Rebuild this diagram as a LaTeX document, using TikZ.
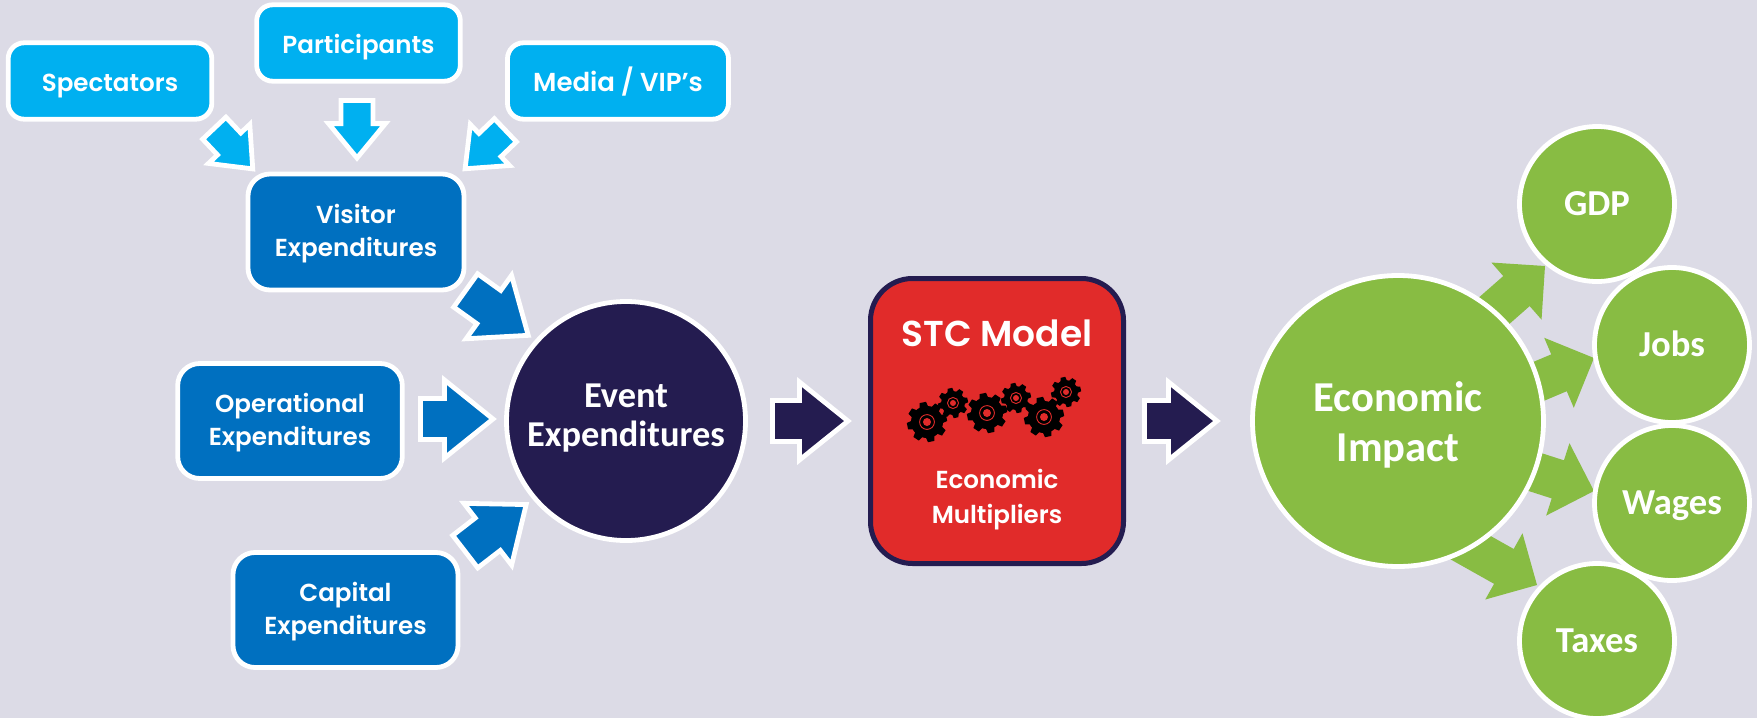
\documentclass[tikz,border=0pt]{standalone}
\usepackage{fontspec}
\setmainfont{Poppins}[BoldFont={Poppins SemiBold}]
\newfontfamily\carl{Carlito}
\usetikzlibrary{calc}
\definecolor{bgc}{HTML}{DCDBE6}
\definecolor{lblue}{HTML}{00B0F0}
\definecolor{mblue}{HTML}{0070C0}
\definecolor{navy}{HTML}{241C50}
\definecolor{redc}{HTML}{E12B2A}
\definecolor{greenc}{HTML}{88BC43}
\pgfdeclarelayer{back}
\pgfdeclarelayer{arrows}
\pgfsetlayers{back,arrows,main}
\newcommand\tl[1]{\rule{0pt}{#1}}
\tikzset{
  box/.style={draw=white,line width=2.4pt,rounded corners=8pt,inner sep=0pt,align=center,text=white,
    font=\fontsize{12.3pt}{16.3pt}\selectfont\bfseries},
  srcbox/.style={box,fill=lblue,minimum width=101.8pt,minimum height=38.2pt,text height=12pt,text depth=2pt},
  expbox/.style={box,fill=mblue,rounded corners=11pt,minimum width=112.3pt,minimum height=57.5pt},
  hubcircle/.style={circle,draw=white,line width=2.4pt,inner sep=0pt,align=center,text=white},
  smallcircle/.style={hubcircle,fill=greenc,minimum size=77.5pt,text height=14pt,text depth=3pt,
    font=\carl\fontsize{18.3pt}{20pt}\selectfont\bfseries},
  label/.style={inner sep=0pt,align=center,text=white},
  arrowlight/.style={fill=lblue,draw=white,line width=2.4pt,miter limit=10},
  arrowblue/.style={fill=mblue,draw=white,line width=2.4pt,miter limit=10},
  arrownavy/.style={fill=navy,draw=white,line width=2.4pt,miter limit=10},
  arrowgreen/.style={fill=greenc,draw=none},
}
% style, tail, tip, head length, shaft half width, head half width, tail extension, tip extension
\newcommand\blockarrow[8]{%
  \path let \p1=#2, \p2=#3 in coordinate (ta0) at (\p1) coordinate (ti0) at (\p2);
  \coordinate (ta) at ($(ta0)!-#7!(ti0)$);
  \coordinate (ti) at ($(ti0)!-#8!(ta0)$);
  \coordinate (ba) at ($(ti)!#4!(ta)$);
  \draw[#1] ($(ta)!#5!90:(ti)$) -- ($(ba)!#5!-90:(ta)$) -- ($(ba)!#6!-90:(ta)$) -- (ti)
    -- ($(ba)!#6!90:(ta)$) -- ($(ba)!#5!90:(ta)$) -- ($(ta)!#5!-90:(ti)$) -- cycle;
}
\newcommand\smallarrow[2]{\blockarrow{arrowlight}{#1}{#2}{17.2pt}{8pt}{14.2pt}{1.25pt}{2pt}}
\newcommand\bigarrow[3]{\blockarrow{#1}{#2}{#3}{24.25pt}{10.25pt}{19.5pt}{1.75pt}{2pt}}
\newcommand\greenarrow[2]{\blockarrow{arrowgreen}{#1}{#2}{19pt}{10pt}{19pt}{0pt}{0pt}}
% x, y, outer radius in px
\newcommand\mygear[3]{%
  \begin{scope}[shift={(#1,#2)}]
    \fill[black] (0,0) circle[radius=.8*#3];
    \foreach \a in {0,45,...,315}
      \fill[black,rotate=\a+12] (.65*#3,-.24*#3) -- (1.0*#3,-.16*#3) -- (1.0*#3,.16*#3) -- (.65*#3,.24*#3) -- cycle;
    \draw[redc,line width=.45pt] (0,0) circle[radius=.37*#3];
    \fill[redc] (0,0) circle[radius=.2*#3];
  \end{scope}
}
\begin{document}
\begin{tikzpicture}[x=.5pt,y=-.5pt]
\useasboundingbox (0,0) rectangle (1757,718);
\begin{pgfonlayer}{back}
  \fill[bgc] (0,0) rectangle (1757,718);
\end{pgfonlayer}
\node[srcbox] (spect) at (110,81) {Spectators};
\node[srcbox] (part) at (358.5,43) {Participants};
\node[srcbox,minimum width=110.5pt,font=\fontsize{13pt}{16pt}\selectfont\bfseries] (media) at (618,81) {Media / VIP’s};
\node[expbox,minimum width=108pt,minimum height=58pt] (vis) at (356,232) {\tl{11.5pt}Visitor\\Expenditures};
\node[expbox] (op) at (290,421) {\tl{11.5pt}Operational\\Expenditures};
\node[expbox,minimum width=112.5pt] (cap) at (345.5,610) {\tl{11.5pt}Capital\\Expenditures};
\node[hubcircle,fill=navy,minimum size=119.5pt,font=\carl\fontsize{18.2pt}{19.6pt}\selectfont\bfseries] (ev) at (626,421) {Event\\Expenditures\rule[-6pt]{0pt}{6pt}};
\node[draw=navy,fill=redc,line width=2.5pt,rounded corners=21pt,inner sep=0pt,minimum width=126.5pt,minimum height=142.5pt] (stc) at (997,421) {};
\node[label,font=\fontsize{18pt}{20pt}\selectfont\bfseries] (stct) at (997,333) {STC Model};
\node[label,font=\fontsize{12.3pt}{17.4pt}\selectfont\bfseries] (mult) at (997,499.5) {Economic\\Multipliers};
\node[hubcircle,fill=greenc,minimum size=145.5pt,font=\carl\fontsize{21.3pt}{25pt}\selectfont\bfseries] (ei) at (1398,421) {\tl{18.5pt}Economic\\Impact};
\node[smallcircle] (gdp) at (1597,204) {GDP};
\node[smallcircle] (jobs) at (1672,345) {Jobs};
\node[smallcircle] (wages) at (1672,503) {Wages};
\node[smallcircle] (taxes) at (1597,641) {Taxes};
\mygear{927}{422}{20}
\mygear{953}{403}{15}
\mygear{987}{413}{20}
\mygear{1016}{398}{15}
\mygear{1044}{417}{20}
\mygear{1066}{392}{15}
\begin{pgfonlayer}{arrows}
\smallarrow{($(spect)+(106,49)$)}{($(vis)+(-106,-66)$)}
\smallarrow{($(part)+(-1.5,60)$)}{($(vis)+(1,-78)$)}
\smallarrow{($(media)+(-114.4,51)$)}{($(vis)+(112,-66)$)}
\bigarrow{arrowblue}{($(vis)+(112.5,60.5)$)}{($(ev)+(-101,-88)$)}
\bigarrow{arrowblue}{($(op)+(134,-2)$)}{($(ev)+(-137,-2)$)}
\bigarrow{arrowblue}{($(cap)+(122.5,-60.5)$)}{($(ev)+(-103,86)$)}
\bigarrow{arrownavy}{($(ev)+(150,0)$)}{($(stc)+(-153,0)$)}
\bigarrow{arrownavy}{($(stc)+(151,0)$)}{($(ei)+(-185,0)$)}
\greenarrow{($(ei)+(81,-97)$)}{($(gdp)+(-52,62)$)}
\greenarrow{($(ei)+(115.5,-29)$)}{($(jobs)+(-78,13)$)}
\greenarrow{($(ei)+(112,43)$)}{($(wages)+(-78,-12)$)}
\greenarrow{($(ei)+(50,114)$)}{($(taxes)+(-60,-56)$)}
\end{pgfonlayer}
\end{tikzpicture}
\end{document}
